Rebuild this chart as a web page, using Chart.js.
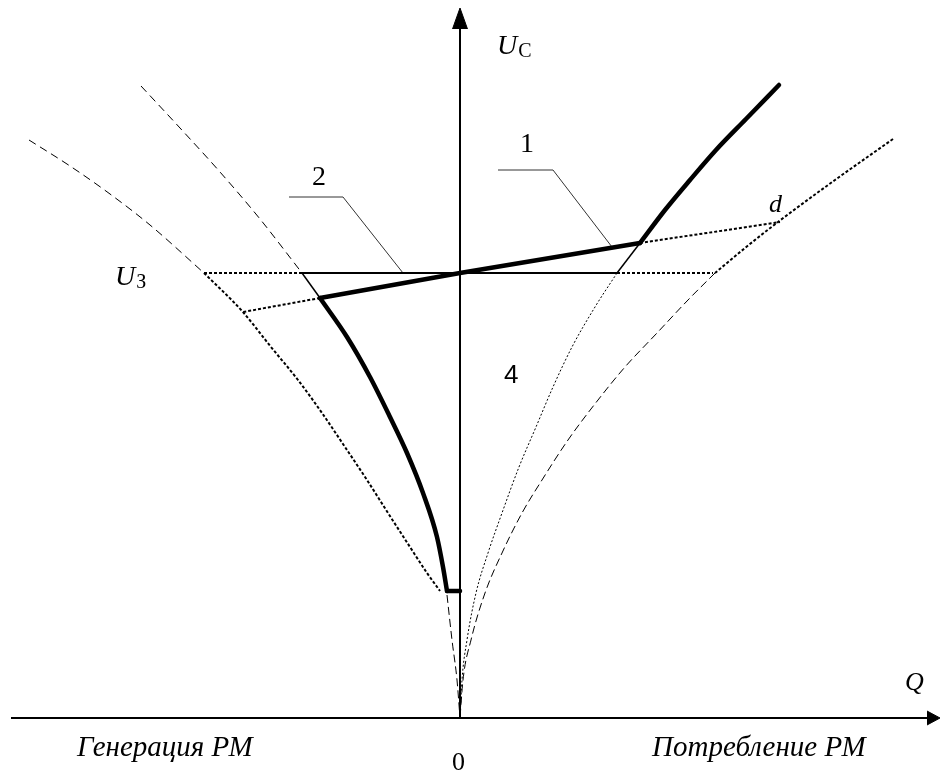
<!DOCTYPE html>
<html>
<head>
<meta charset="utf-8">
<script src="https://cdn.jsdelivr.net/npm/chart.js@4.4.1/dist/chart.umd.min.js"></script>
<style>
  html, body { margin: 0; padding: 0; background: #fff; }
  #wrap { width: 940px; height: 771px; position: relative; }
</style>
</head>
<body>
<div id="wrap"><canvas id="uqChart"></canvas></div>
<script>
// Q (reactive power) on x, U (voltage) on y
const qAxisLine = [[-44.9, 0], [46.8, 0]];
const qArrowUpper = [[46.7, 0.7], [48.0, 0]];
const qArrowLower = [[46.7, -0.7], [48.0, 0]];
const uAxisLine = [[0, 0], [0, 69.0]];
const uArrow = [[-0.75, 68.9], [0, 71.0], [0.75, 68.9]];

const leftOuterDashed = [[-43.1, 57.8], [-39.0, 55.2], [-35.0, 52.4], [-31.0, 49.3], [-25.6, 44.5]];
const leftOuterDotted = [[-25.6, 44.5], [-21.8, 40.7], [-18.9, 37.1], [-16.2, 33.8], [-13.8, 30.5],
  [-11.5, 27.1], [-9.3, 23.8], [-7.2, 20.5], [-5.0, 17.1], [-3.3, 14.5], [-2.0, 12.7]];
const leftBottomDashed = [[-1.3, 12.3], [-0.8, 7.8], [-0.3, 3.8], [0, 0]];
const leftInnerDashed = [[-31.9, 63.2], [-28.0, 59.0], [-24.0, 54.6], [-20.0, 49.9], [-15.8, 44.5]];

const rightOuterDotted = [[43.3, 57.9], [37.5, 53.8], [31.8, 49.6], [28.5, 47.0], [25.5, 44.5]];
const rightOuterDashed = [[25.5, 44.5], [22.8, 41.8], [19.7, 38.5], [16.5, 35.1], [13.8, 31.8],
  [10.8, 27.8], [8.2, 23.8], [6.2, 20.5], [4.2, 16.5], [2.5, 12.5], [1.1, 7.8], [0.3, 3.8], [0, 0]];
const rightInnerDotted = [[15.7, 44.5], [13.5, 41.1], [11.2, 37.1], [9.3, 33.1], [7.6, 29.1],
  [5.9, 25.1], [4.2, 20.5], [2.8, 16.5], [1.6, 12.5], [0.7, 7.8], [0.2, 3.8], [0, 0]];

const u3LeftDotted = [[-25.6, 44.5], [-15.8, 44.5]];
const u3Solid = [[-15.8, 44.5], [15.7, 44.5]];
const u3RightDotted = [[15.7, 44.5], [25.3, 44.5]];
const leftJoin = [[-15.8, 44.5], [-14.0, 42.0]];
const rightJoin = [[15.7, 44.5], [18.0, 47.5]];
const leftShortDotted = [[-14.0, 42.0], [-21.7, 40.6]];
const dLineDotted = [[18.0, 47.5], [32.0, 49.6]];

// characteristic: thick broken line, in pieces
const thickLeftCurve = [[-14.0, 42.0], [-11.3, 38.1], [-9.0, 34.1], [-7.0, 30.1], [-5.3, 26.5],
  [-3.7, 22.5], [-2.3, 18.1], [-1.7, 15.1], [-1.3, 12.7]];
const thickBottom = [[-1.3, 12.7], [0, 12.7]];
const thickLine1 = [[-14.0, 42.0], [0, 44.5], [18.0, 47.5]];
const thickRightCurve = [[18.0, 47.5], [20.5, 50.8], [23.0, 53.8], [25.6, 56.8], [28.6, 59.9], [31.9, 63.3]];

const leader1 = [[3.8, 54.8], [9.3, 54.8], [15.2, 47.1]];
const leader2 = [[-17.1, 52.1], [-11.7, 52.1], [-5.7, 44.5]];

const labelTexts = ['U', 'С', 'U', 'З', '1', '2', '4', 'd', 'Q', 'Генерация РМ', 'Потребление РМ', '0'];
const labelAt = [[3.7, 66.4], null, [-34.5, 43.3], null, [6.0, 56.6], [-14.8, 53.3], [4.4, 33.5],
  [30.9, 50.6], [44.5, 2.8], [-38.3, -3.8], [19.2, -3.8], [-0.8, -5.2]];
const labelFont = ['italic 28px "Liberation Serif"', '20px "Liberation Serif"', 'italic 28px "Liberation Serif"',
  '20px "Liberation Serif"', '28px "Liberation Serif"', '28px "Liberation Serif"', '26px "Liberation Sans"',
  'italic 26px "Liberation Serif"', 'italic 26px "Liberation Serif"', 'italic 29px "Liberation Serif"',
  'italic 29px "Liberation Serif"', '26px "Liberation Serif"'];
const subShift = 3;

const pts = arr => arr.map(p => ({ x: p[0], y: p[1] }));

function line(arr, width, dash, extra) {
  return Object.assign({
    data: pts(arr),
    showLine: true,
    borderColor: '#000',
    borderWidth: width,
    borderDash: dash || [],
    tension: 0,
    pointRadius: 0,
    fill: false,
    clip: false
  }, extra || {});
}

function curve(arr, width, dash, extra) {
  return line(arr, width, dash, Object.assign({ cubicInterpolationMode: 'monotone' }, extra || {}));
}

function arrow(arr, base) {
  return line(arr, 1, [], { backgroundColor: '#000', fill: { value: base } });
}

const textPlugin = {
  id: 'labels',
  afterDatasetsDraw(chart) {
    const { ctx, scales: { x, y } } = chart;
    ctx.save();
    ctx.fillStyle = '#000';
    ctx.textBaseline = 'alphabetic';
    ctx.textAlign = 'left';
    let prevEnd = 0, prevY = 0;
    labelTexts.forEach((t, i) => {
      ctx.font = labelFont[i];
      let px, py;
      if (labelAt[i]) {
        px = x.getPixelForValue(labelAt[i][0]);
        py = y.getPixelForValue(labelAt[i][1]);
      } else {
        px = prevEnd + 1;
        py = prevY + subShift;
      }
      ctx.fillText(t, px, py);
      prevEnd = px + ctx.measureText(t).width;
      prevY = py;
    });
    ctx.restore();
  }
};

const thick = { borderCapStyle: 'round', borderJoinStyle: 'round' };

new Chart(document.getElementById('uqChart'), {
  type: 'scatter',
  data: {
    datasets: [
      line(qAxisLine, 2),
      arrow(qArrowUpper, 0),
      arrow(qArrowLower, 0),
      line(uAxisLine, 2),
      arrow(uArrow, 68.9),
      curve(leftOuterDashed, 1, [8, 5]),
      curve(leftOuterDotted, 2, [3, 2]),
      curve(leftBottomDashed, 1, [8, 4]),
      curve(leftInnerDashed, 1, [8, 5]),
      curve(rightOuterDotted, 2, [3, 2]),
      curve(rightOuterDashed, 1, [8, 4]),
      curve(rightInnerDotted, 1, [2, 2]),
      line(u3LeftDotted, 2, [3, 2]),
      line(u3Solid, 2),
      line(u3RightDotted, 2, [3, 2]),
      line(leftJoin, 1.5),
      line(rightJoin, 1.5),
      line(leftShortDotted, 2, [3, 2]),
      line(dLineDotted, 2, [3, 2]),
      curve(thickLeftCurve, 4.5, [], thick),
      line(thickBottom, 4.5, [], thick),
      line(thickLine1, 4.5, [], thick),
      curve(thickRightCurve, 4.5, [], thick),
      line(leader1, 1, [], { borderColor: '#333' }),
      line(leader2, 1, [], { borderColor: '#333' })
    ]
  },
  options: {
    responsive: true,
    maintainAspectRatio: false,
    animation: false,
    events: [],
    layout: { padding: 0 },
    plugins: { legend: { display: false }, tooltip: { enabled: false } },
    scales: {
      x: { type: 'linear', min: -46, max: 48, display: false },
      y: { type: 'linear', min: -5.3, max: 71.8, display: false }
    }
  },
  plugins: [textPlugin]
});
</script>
</body>
</html>
